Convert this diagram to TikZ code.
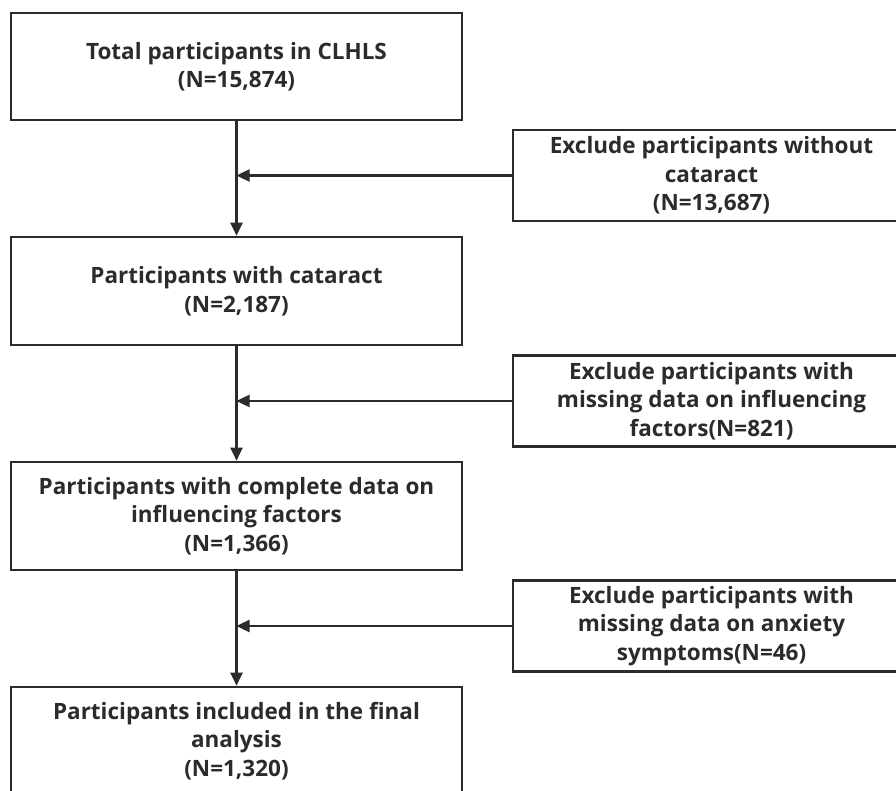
\documentclass[tikz,border=0pt]{standalone}
\usepackage{fontspec}
\setmainfont{Open Sans}
\usetikzlibrary{arrows.meta}
\definecolor{ink}{HTML}{2B2B2B}
\begin{document}
\begin{tikzpicture}[x=1pt,y=-1pt,
  box/.style={draw=ink, line width=2.6pt, rectangle, align=center, inner sep=0pt,
    font=\fontsize{22.5}{28.5}\selectfont\bfseries, text=ink},
  mainbox/.style={box, minimum width=451pt},
  sidebox/.style={box, minimum width=397pt, minimum height=91pt},
  flow/.style={draw=ink, line width=2.4pt, -{Triangle[length=13pt,width=12pt]}}]
\useasboundingbox (0,0) rectangle (896,791);
\begin{scope}
\clip (0,0) rectangle (896,791);
\node[mainbox, minimum height=107pt] (b1) at (236.5,66.5) {Total participants in CLHLS\\(N=15,874)};
\node[mainbox, minimum height=108pt] (b3) at (236.5,291) {Participants with cataract\\(N=2,187)};
\node[mainbox, minimum height=108pt] (b5) at (236.5,516) {Participants with complete data on\\influencing factors\\(N=1,366)};
\node[mainbox, minimum height=108pt] (b7) at (236.5,741) {Participants included in the final\\analysis\\(N=1,320)};
\node[sidebox] (e1) at (711.5,175.5) {Exclude participants without\\cataract\\(N=13,687)};
\node[sidebox] (e2) at (711.5,401) {Exclude participants with\\missing data on influencing\\factors(N=821)};
\node[sidebox] (e3) at (711.5,626) {Exclude participants with\\missing data on anxiety\\symptoms(N=46)};
\coordinate (j1) at (b1.south |- e1.west);
\coordinate (j2) at (b3.south |- e2.west);
\coordinate (j3) at (b5.south |- e3.west);
\draw[flow] (b1.south) -- (b3.north);
\draw[flow] (b3.south) -- (b5.north);
\draw[flow] (b5.south) -- (b7.north);
\draw[flow] (e1.west) -- (j1);
\draw[flow] (e2.west) -- (j2);
\draw[flow] (e3.west) -- (j3);
\end{scope}
\end{tikzpicture}
\end{document}
